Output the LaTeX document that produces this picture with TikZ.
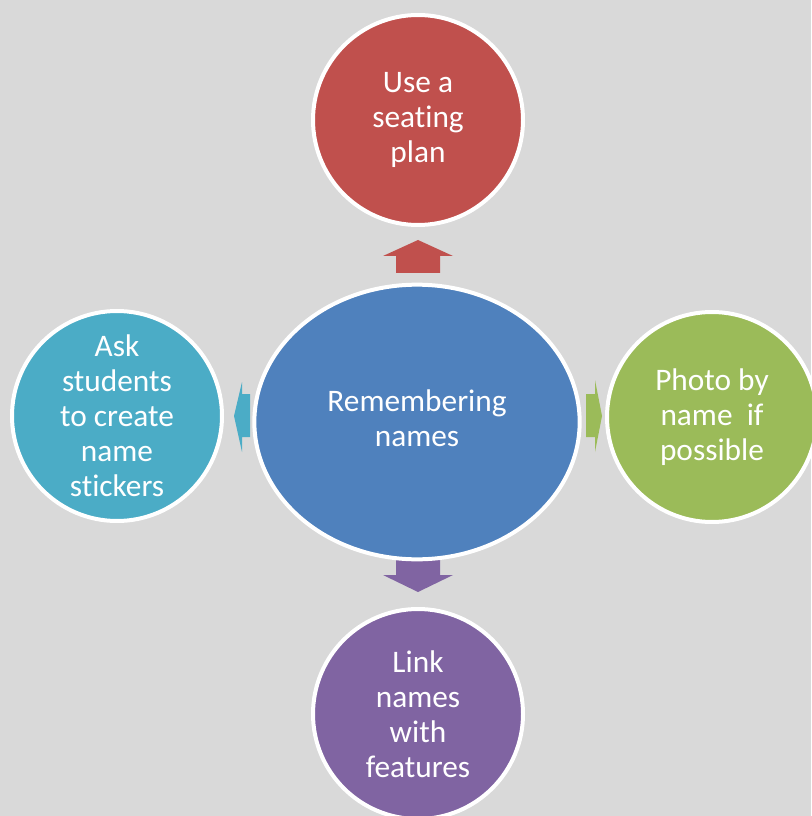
\documentclass[tikz,border=0pt]{standalone}
\usepackage{fontspec}
\setmainfont{Carlito}[Ligatures={NoCommon}]
\usetikzlibrary{shapes.geometric}
\definecolor{bg}{HTML}{D9D9D9}
\definecolor{cred}{HTML}{C0504D}
\definecolor{cblue}{HTML}{4F81BD}
\definecolor{cgreen}{HTML}{9BBB59}
\definecolor{cpurple}{HTML}{8064A2}
\definecolor{caqua}{HTML}{4BACC6}
\tikzset{
  bubble/.style={circle, draw=white, line width=3pt, minimum size=157.5pt, inner sep=0pt,
    text=white, align=center, font=\fontsize{23.5}{26.25}\selectfont},
  hub/.style={ellipse, draw=white, line width=3pt, minimum width=244pt, minimum height=206pt, inner sep=0pt,
    text=white, align=center, font=\fontsize{23.5}{26.25}\selectfont},
}
\begin{document}
\begin{tikzpicture}[x=0.75pt, y=-0.75pt]
\fill[bg] (0,0) rectangle (811,816);
\useasboundingbox (0,0) rectangle (811,816);
% arrows
\fill[cred] (396,273) -- (396,256) -- (383,256) -- (418,240) -- (453,256) -- (440,256) -- (440,273) -- cycle;
\fill[cpurple] (396,559) -- (396,575) -- (383,575) -- (418,592) -- (453,575) -- (440,575) -- (440,559) -- cycle;
\fill[caqua] (250,394) -- (242,394) -- (242,382) -- (234,416) -- (242,452) -- (242,437) -- (250,437) -- cycle;
\fill[cgreen] (586,394) -- (595,394) -- (595,380) -- (602,416) -- (595,452) -- (595,437) -- (586,437) -- cycle;
% nodes
\node[hub, fill=cblue] (c) at (417,422) {\raisebox{8pt}{\begin{tabular}{@{}c@{}}Remembering\\names\end{tabular}}};
\node[bubble, fill=cred] (t) at (418,120) {Use a\\seating\\plan};
\node[bubble, fill=caqua] (l) at (117,416) {Ask\\students\\to create\\name\\stickers};
\node[bubble, fill=cgreen] (r) at (712,417) {Photo by\\name\ \ if\\possible};
\node[bubble, fill=cpurple] (b) at (418,714) {Link\\names\\with\\features};
\end{tikzpicture}
\end{document}
